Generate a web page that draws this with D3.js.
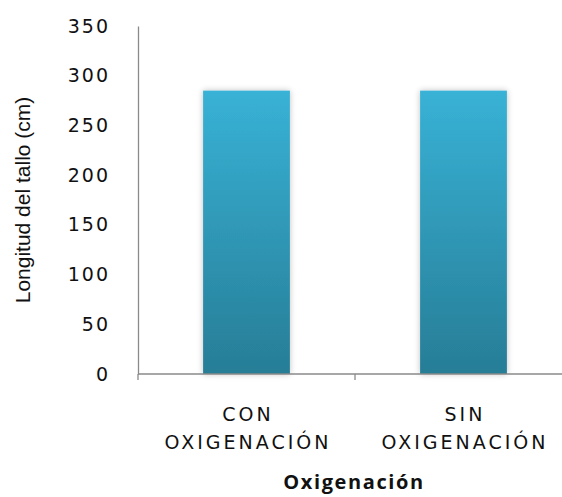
<!DOCTYPE html>
<html>
<head>
<meta charset="utf-8">
<script src="https://cdn.jsdelivr.net/npm/d3@7"></script>
<style>
  html, body { margin: 0; padding: 0; background: #fff; }
  svg { display: block; }
</style>
</head>
<body>
<svg id="chart" width="562" height="497"></svg>
<script>
// Stem length per oxygenation treatment
const categories = ["CON\nOXIGENACIÓN", "SIN\nOXIGENACIÓN"];
const stemLength = [285, 285];
const yTicks = [0, 50, 100, 150, 200, 250, 300, 350];
const yTitle = "Longitud del tallo (cm)";
const xTitle = "Oxigenación";

const svg = d3.select("#chart");
const plot = { left: 138, right: 572, top: 26, bottom: 374 };

const x = d3.scaleBand()
  .domain(categories)
  .range([plot.left, plot.right])
  .paddingInner(0.6)
  .paddingOuter(0.3);

const y = d3.scaleLinear()
  .domain([0, 350])
  .range([plot.bottom, plot.top]);

const defs = svg.append("defs");
const grad = defs.append("linearGradient")
  .attr("id", "barFill")
  .attr("x1", 0).attr("y1", 0).attr("x2", 0).attr("y2", 1);
grad.append("stop").attr("offset", "0%").attr("stop-color", "#38b2d6");
grad.append("stop").attr("offset", "100%").attr("stop-color", "#277d96");

const shadow = defs.append("filter")
  .attr("id", "barShadow")
  .attr("x", "-20%").attr("y", "-10%").attr("width", "140%").attr("height", "120%");
shadow.append("feGaussianBlur").attr("in", "SourceAlpha").attr("stdDeviation", 3).attr("result", "blur");
shadow.append("feComponentTransfer").attr("in", "blur").attr("result", "soft")
  .append("feFuncA").attr("type", "linear").attr("slope", 0.25);
const merge = shadow.append("feMerge");
merge.append("feMergeNode").attr("in", "soft");
merge.append("feMergeNode").attr("in", "SourceGraphic");

// Bars
svg.append("g")
  .selectAll("rect")
  .data(categories.map((c, i) => ({ c, v: stemLength[i] })))
  .join("rect")
  .attr("x", d => x(d.c))
  .attr("width", x.bandwidth())
  .attr("y", d => y(d.v))
  .attr("height", d => y(0) - y(d.v))
  .attr("fill", "url(#barFill)")
  .attr("filter", "url(#barShadow)");

// Y axis: line plus labels
const yAxis = svg.append("g")
  .attr("transform", `translate(${plot.left},0)`)
  .call(d3.axisLeft(y).tickValues(yTicks).tickSize(0).tickPadding(28));
yAxis.select(".domain").attr("stroke", "#8a8a8a").attr("stroke-width", 1.3);
yAxis.selectAll("text")
  .attr("font-family", "DejaVu Sans, sans-serif")
  .attr("font-size", 19)
  .attr("letter-spacing", 2)
  .attr("fill", "#111");

// X axis: baseline with boundary ticks
const xAxis = svg.append("g")
  .attr("transform", `translate(0,${plot.bottom})`);
xAxis.append("line")
  .attr("x1", plot.left).attr("x2", plot.right)
  .attr("stroke", "#8a8a8a").attr("stroke-width", 1.3);
const bounds = [plot.left, x(categories[1]) - x.step() * x.paddingInner() / 2, plot.right];
xAxis.selectAll("line.tick")
  .data(bounds)
  .join("line")
  .attr("class", "tick")
  .attr("x1", d => d).attr("x2", d => d)
  .attr("y1", 0).attr("y2", 6)
  .attr("stroke", "#8a8a8a").attr("stroke-width", 1.3);

// Category labels (two lines)
const catLabels = svg.append("g")
  .selectAll("text")
  .data(categories)
  .join("text")
  .attr("text-anchor", "middle")
  .attr("font-family", "DejaVu Sans, sans-serif")
  .attr("font-size", 19)
  .attr("letter-spacing", 3)
  .attr("fill", "#111");
catLabels.each(function (d) {
  const lines = d.split("\n");
  const t = d3.select(this);
  lines.forEach((line, i) => {
    t.append("tspan")
      .attr("x", x(d) + x.bandwidth() / 2 + 1.5)
      .attr("y", 421 + i * 28)
      .text(line);
  });
});

// Axis titles
svg.append("text")
  .attr("x", 354)
  .attr("y", 489)
  .attr("text-anchor", "middle")
  .attr("font-family", "Open Sans, DejaVu Sans, sans-serif")
  .attr("font-weight", "bold")
  .attr("font-size", 20)
  .attr("letter-spacing", 1.6)
  .attr("fill", "#111")
  .text(xTitle);

svg.append("text")
  .attr("transform", "translate(30,200) rotate(-90)")
  .attr("text-anchor", "middle")
  .attr("font-family", "Liberation Sans Narrow, Liberation Sans, sans-serif")
  .attr("font-size", 21)
  .attr("fill", "#111")
  .text(yTitle);
</script>
</body>
</html>
